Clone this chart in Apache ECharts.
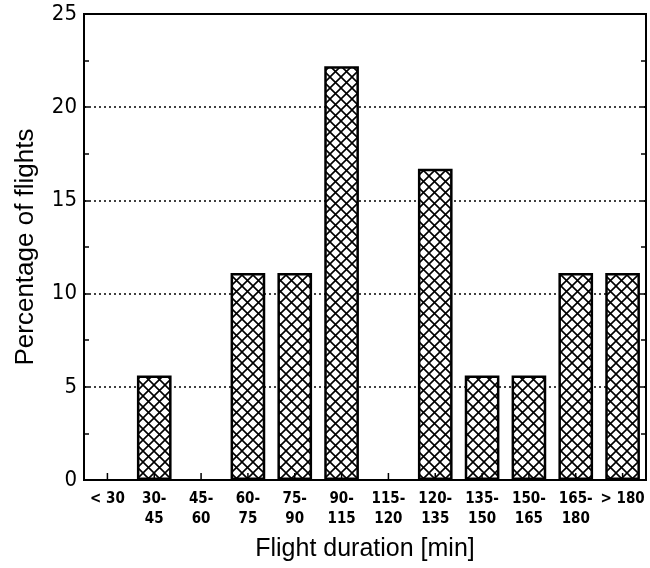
<!DOCTYPE html>
<html><head><meta charset="utf-8">
<script src="https://cdn.jsdelivr.net/npm/echarts@6/dist/echarts.min.js"></script>
<style>html,body{margin:0;padding:0;background:#fff}#c{width:650px;height:568px}</style>
</head><body><div id="c"></div>
<script>
var categories = ['< 30','30-\n45','45-\n60','60-\n75','75-\n90','90-\n115','115-\n120','120-\n135','135-\n150','150-\n165','165-\n180','> 180'];
var percentages = [0, 5.6, 0, 11.1, 11.1, 22.2, 0, 16.7, 5.6, 5.6, 11.1, 11.1];
var yTicks = [0, 5, 10, 15, 20, 25];

function hatch() {
  var s = 11, cv = document.createElement('canvas');
  cv.width = s; cv.height = s;
  var g = cv.getContext('2d');
  g.fillStyle = '#fff'; g.fillRect(0, 0, s, s);
  g.strokeStyle = '#000'; g.lineWidth = 1.6;
  g.beginPath();
  g.moveTo(-2, -2); g.lineTo(s + 2, s + 2);
  g.moveTo(s + 2, -2); g.lineTo(-2, s + 2);
  g.stroke();
  return cv;
}

var chart = echarts.init(document.getElementById('c'));
var yBase = {
  type: 'value', min: yTicks[0], max: yTicks[yTicks.length - 1], interval: 5,
  axisLine: {show: true, lineStyle: {color: '#000', width: 2}},
  axisTick: {show: true, inside: true, length: 5, lineStyle: {color: '#000', width: 1.5}},
  minorTick: {show: true, splitNumber: 2, length: 5, lineStyle: {color: '#000', width: 1.5}}
};
chart.setOption({
  animation: false,
  grid: {left: 84, right: 4, top: 14, bottom: 88, containLabel: false,
         show: true, borderColor: '#000', borderWidth: 2, backgroundColor: 'transparent'},
  xAxis: [{
    type: 'category', data: categories,
    axisLine: {show: true, onZero: false, lineStyle: {color: '#000', width: 2}},
    axisTick: {show: false},
    axisLabel: {color: '#000', fontFamily: 'DejaVu Sans Condensed', fontWeight: 'bold', fontSize: 15, lineHeight: 20, margin: 9, interval: 0},
    name: 'Flight duration [min]', nameLocation: 'middle', nameGap: 57,
    nameTextStyle: {color: '#000', fontFamily: 'Liberation Sans', fontSize: 25}
  }],
  yAxis: [Object.assign({}, yBase, {
    axisLabel: {color: '#000', fontFamily: 'DejaVu Sans Condensed', fontSize: 22, margin: 7},
    splitLine: {show: true, lineStyle: {color: '#000', type: [2, 3], width: 1.5}},
    name: 'Percentage of flights', nameLocation: 'middle', nameGap: 45,
    nameTextStyle: {color: '#000', fontFamily: 'Liberation Sans', fontSize: 26}
  }), Object.assign({}, yBase, {
    position: 'right', axisLabel: {show: false}, splitLine: {show: false}
  })],
  series: [{
    type: 'bar', barWidth: '74%', z: 1, xAxisIndex: 0, yAxisIndex: 0,
    data: percentages.map(function (v) { return v === 0 ? '-' : v; }),
    itemStyle: {color: {image: hatch(), repeat: 'repeat'}, borderColor: '#000', borderWidth: 2.5}
  }, {
    // inward ticks at each category centre on the bottom axis
    type: 'custom', z: 5, silent: true, xAxisIndex: 0, yAxisIndex: 0,
    data: categories.map(function (c, i) { return [i, yTicks[0]]; }),
    renderItem: function (params, api) {
      var p = api.coord([api.value(0), api.value(1)]);
      return {
        type: 'line',
        shape: {x1: p[0], y1: p[1], x2: p[0], y2: p[1] - 7},
        style: {stroke: '#000', lineWidth: 1.5}
      };
    }
  }]
});
</script></body></html>
